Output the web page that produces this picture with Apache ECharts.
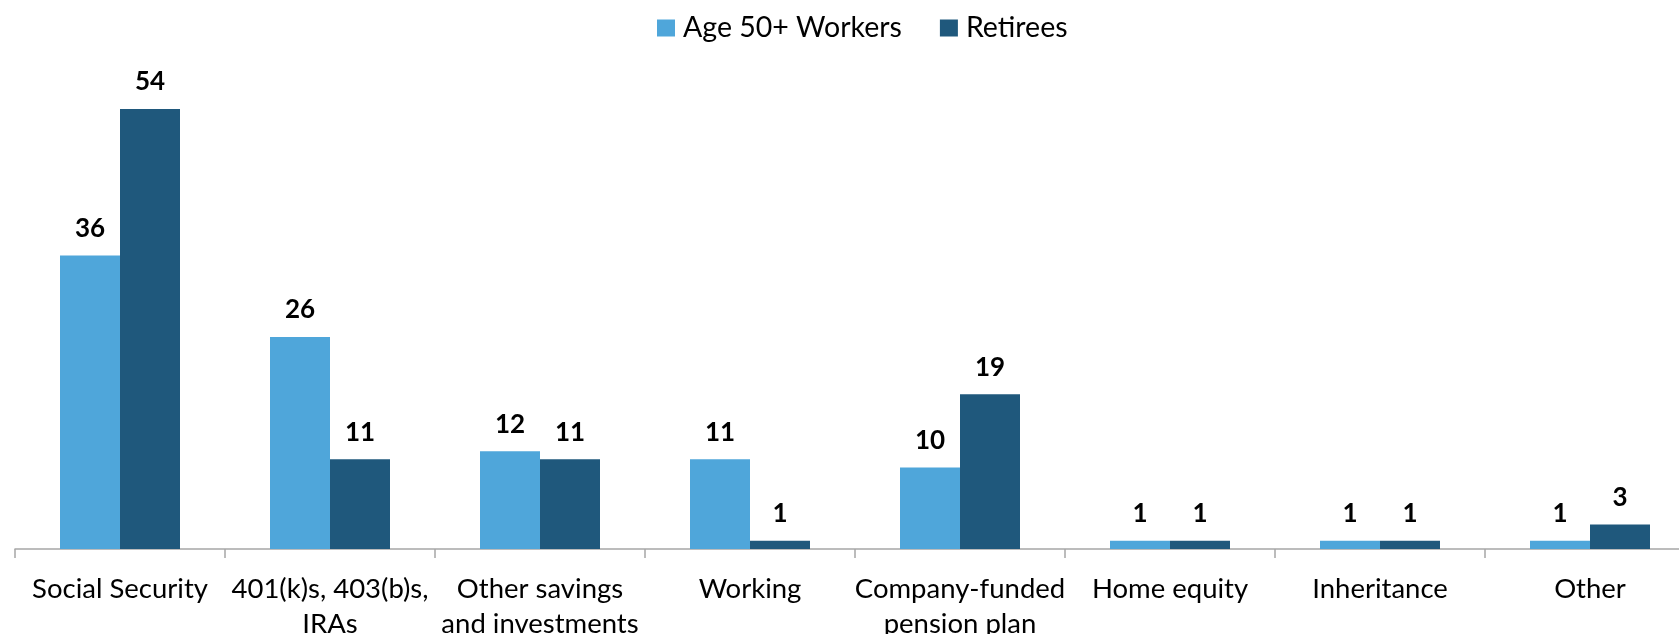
<!DOCTYPE html>
<html>
<head>
<meta charset="utf-8">
<script src="https://cdn.jsdelivr.net/npm/echarts@6/dist/echarts.min.js"></script>
<style>
  html, body { margin: 0; padding: 0; background: #fff; }
  #chart { width: 1679px; height: 634px; }
</style>
</head>
<body>
<div id="chart"></div>
<script>
// Main expected sources of retirement income (%)
const categories = [
  'Social Security',
  '401(k)s, 403(b)s,\nIRAs',
  'Other savings\nand investments',
  'Working',
  'Company-funded\npension plan',
  'Home equity',
  'Inheritance',
  'Other'
];
const seriesNames = ['Age 50+ Workers', 'Retirees'];
const workers = [36, 26, 12, 11, 10, 1, 1, 1];
const retirees = [54, 11, 11, 1, 19, 1, 1, 3];

const FONT = 'Lato, "Open Sans", sans-serif';
const colors = ['#4FA6DA', '#1F587C'];

const chart = echarts.init(document.getElementById('chart'));

const labelStyle = {
  show: true,
  position: 'top',
  distance: 14,
  color: '#000',
  fontFamily: FONT,
  fontWeight: 'bold',
  fontSize: 26
};

chart.setOption({
  animation: false,
  color: colors,
  legend: {
    data: seriesNames,
    top: 8,
    left: 652,
    itemWidth: 18,
    itemHeight: 17,
    itemGap: 38,
    icon: 'rect',
    textStyle: {
      fontFamily: FONT,
      fontSize: 28.5,
      lineHeight: 30,
      color: '#000',
      padding: [0, 0, 0, 3]
    }
  },
  grid: {
    left: 15,
    top: 60,
    width: 1680,
    bottom: 85,
    containLabel: false,
    outerBoundsMode: 'none'
  },
  xAxis: {
    type: 'category',
    data: categories,
    axisLine: { lineStyle: { color: '#a6a6a6', width: 1.5 } },
    axisTick: { show: true, length: 9, lineStyle: { color: '#a6a6a6', width: 1.5 } },
    axisLabel: {
      color: '#000',
      fontFamily: FONT,
      fontSize: 27.5,
      lineHeight: 35,
      margin: 23,
      interval: 0
    }
  },
  yAxis: {
    type: 'value',
    min: 0,
    max: 60,
    show: false,
    splitLine: { show: false }
  },
  series: [
    {
      name: seriesNames[0],
      type: 'bar',
      data: workers,
      barWidth: 60,
      barGap: '0%',
      label: labelStyle
    },
    {
      name: seriesNames[1],
      type: 'bar',
      data: retirees,
      barWidth: 60,
      barGap: '0%',
      label: labelStyle
    }
  ]
});
</script>
</body>
</html>
